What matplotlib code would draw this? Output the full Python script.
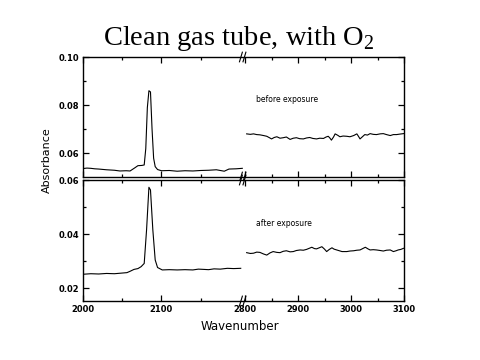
import numpy as np
import matplotlib
matplotlib.use('Agg')
import matplotlib.pyplot as plt
from matplotlib.ticker import FixedLocator, NullFormatter

# before exposure, low wavenumber segment
before_lo_x = [2000, 2005, 2010, 2015, 2020, 2030, 2040, 2047, 2055, 2060, 2066, 2070,
               2075, 2078, 2080, 2082, 2084, 2086, 2088, 2090, 2092, 2095, 2100, 2110,
               2120, 2130, 2140, 2150, 2160, 2170, 2175, 2180, 2186, 2195, 2203]
before_lo_y = [0.0537, 0.0539, 0.0538, 0.0536, 0.0535, 0.0532, 0.0530, 0.0527, 0.0528,
               0.0527, 0.0540, 0.0549, 0.0550, 0.0552, 0.0620, 0.0790, 0.0860, 0.0855,
               0.0700, 0.0580, 0.0545, 0.0533, 0.0528, 0.0529, 0.0526, 0.0528, 0.0527,
               0.0529, 0.0530, 0.0532, 0.0529, 0.0526, 0.0535, 0.0536, 0.0538]

# before exposure, high wavenumber segment
before_hi_x = [2803, 2810, 2816, 2822, 2828, 2835, 2841, 2846, 2850, 2855, 2860, 2866,
               2872, 2878, 2885, 2891, 2897, 2903, 2910, 2916, 2922, 2928, 2935, 2941,
               2948, 2953, 2957, 2960, 2963, 2967, 2970, 2975, 2979, 2985, 2992, 2998,
               3005, 3011, 3014, 3017, 3022, 3026, 3031, 3036, 3042, 3048, 3055, 3061,
               3067, 3074, 3080, 3086, 3092, 3099]
before_hi_y = [0.0681, 0.0679, 0.0681, 0.0678, 0.0677, 0.0674, 0.0671, 0.0665, 0.0660,
               0.0666, 0.0669, 0.0663, 0.0665, 0.0668, 0.0658, 0.0663, 0.0665, 0.0661,
               0.0660, 0.0664, 0.0666, 0.0662, 0.0660, 0.0663, 0.0662, 0.0668, 0.0671,
               0.0664, 0.0655, 0.0668, 0.0681, 0.0675, 0.0669, 0.0672, 0.0671, 0.0669,
               0.0674, 0.0681, 0.0671, 0.0660, 0.0670, 0.0678, 0.0676, 0.0682, 0.0679,
               0.0678, 0.0681, 0.0682, 0.0678, 0.0674, 0.0678, 0.0678, 0.0680, 0.0682]

# after exposure, low wavenumber segment
after_lo_x = [2000, 2010, 2020, 2030, 2040, 2048, 2056, 2060, 2065, 2070, 2074, 2078,
              2081, 2084, 2086, 2089, 2092, 2095, 2101, 2110, 2120, 2130, 2140, 2147,
              2154, 2160, 2167, 2175, 2184, 2192, 2201]
after_lo_y = [0.0251, 0.0253, 0.0252, 0.0254, 0.0253, 0.0255, 0.0257, 0.0262, 0.0269,
              0.0272, 0.0279, 0.0291, 0.0415, 0.0573, 0.0563, 0.0415, 0.0304, 0.0276,
              0.0267, 0.0268, 0.0267, 0.0268, 0.0267, 0.0270, 0.0269, 0.0268, 0.0271,
              0.0270, 0.0273, 0.0272, 0.0273]

# after exposure, high wavenumber segment
after_hi_x = [2803, 2810, 2816, 2822, 2828, 2835, 2841, 2847, 2853, 2860, 2866, 2872,
              2878, 2885, 2891, 2897, 2904, 2910, 2916, 2921, 2926, 2931, 2935, 2940,
              2945, 2950, 2954, 2959, 2964, 2968, 2973, 2978, 2983, 2992, 2998, 3005,
              3011, 3017, 3022, 3027, 3032, 3036, 3042, 3048, 3055, 3061, 3067, 3074,
              3080, 3085, 3089, 3094, 3099]
after_hi_y = [0.0331, 0.0328, 0.0329, 0.0333, 0.0332, 0.0326, 0.0322, 0.0330, 0.0335,
              0.0332, 0.0331, 0.0336, 0.0338, 0.0334, 0.0335, 0.0339, 0.0341, 0.0340,
              0.0343, 0.0347, 0.0351, 0.0346, 0.0345, 0.0349, 0.0353, 0.0344, 0.0335,
              0.0343, 0.0349, 0.0344, 0.0341, 0.0338, 0.0335, 0.0335, 0.0337, 0.0338,
              0.0340, 0.0341, 0.0346, 0.0351, 0.0345, 0.0341, 0.0342, 0.0341, 0.0339,
              0.0337, 0.0340, 0.0341, 0.0335, 0.0338, 0.0341, 0.0343, 0.0347]

x_major = [2000, 2100, 2800, 2900, 3000, 3100]
x_minor = [2050, 2150, 2850, 2950, 3050]
x_labels = ['2000', '2100', '2800', '2900', '3000', '3100']

BREAK = 160  # scaled position of the axis break


def fwd(x):
    x = np.asarray(x, dtype=float)
    return np.where(x < 2500, (x - 2000) * 0.785, BREAK + (x - 2796) * 0.53)


def inv(u):
    u = np.asarray(u, dtype=float)
    return np.where(u < BREAK, 2000 + u / 0.785, 2796 + (u - BREAK) / 0.53)


def setup(ax, ymin, ymax, ymaj, yminor, ylabels):
    ax.set_xscale('function', functions=(fwd, inv))
    ax.set_xlim(2000, 3100)
    ax.set_ylim(ymin, ymax)
    ax.xaxis.set_major_locator(FixedLocator(x_major))
    ax.set_xticklabels(x_labels)
    ax.xaxis.set_minor_locator(FixedLocator(x_minor))
    ax.xaxis.set_minor_formatter(NullFormatter())
    ax.set_yticks(ymaj)
    ax.set_yticklabels(ylabels)
    ax.yaxis.set_minor_locator(FixedLocator(yminor))
    ax.tick_params(which='both', direction='in', top=True, right=True,
                   labelsize=6, width=0.9, pad=3)
    ax.tick_params(which='major', length=4)
    ax.tick_params(which='minor', length=2)
    for lab in ax.get_yticklabels() + ax.get_xticklabels():
        lab.set_fontweight('bold')
    for s in ax.spines.values():
        s.set_linewidth(1.0)


fig = plt.figure(figsize=(4.8, 3.6), dpi=100)
ax1 = fig.add_axes([83 / 480, 1 - 177 / 360, 321 / 480, 120 / 360])
ax2 = fig.add_axes([83 / 480, 1 - 301 / 360, 321 / 480, 121 / 360])

ax1.plot(before_lo_x, before_lo_y, color='black', lw=0.8)
ax1.plot(before_hi_x, before_hi_y, color='black', lw=0.8)
ax2.plot(after_lo_x, after_lo_y, color='black', lw=0.8)
ax2.plot(after_hi_x, after_hi_y, color='black', lw=0.8)

setup(ax1, 0.0502, 0.100, [0.06, 0.08, 0.10], [0.07, 0.09], ['0.06', '0.08', '0.10'])
setup(ax2, 0.0152, 0.060, [0.02, 0.04, 0.06], [0.03, 0.05], ['0.02', '0.04', '0.06'])
ax1.tick_params(labelbottom=False)

# break marks "//" on each horizontal spine
bx = BREAK / 321
for ax in (ax1, ax2):
    for yb in (0, 1):
        for dx in (-0.011, 0.0):
            ax.plot([bx + dx, bx + dx + 0.009], [yb - 0.04, yb + 0.04],
                    color='black', lw=0.8, transform=ax.transAxes, clip_on=False)

ax1.text(0.538, 0.65, 'before exposure', fontsize=5.5, transform=ax1.transAxes,
         va='center')
ax2.text(0.538, 0.64, 'after exposure', fontsize=5.5, transform=ax2.transAxes,
         va='center')

fig.text(0.498, 1 - 45 / 360, 'Clean gas tube, with O$_\\mathregular{2}$',
         ha='center', va='baseline', fontsize=20.5, family='Liberation Serif')
fig.text(47 / 480, 1 - 160 / 360, 'Absorbance', rotation=90, ha='center',
         va='center', fontsize=8)
fig.text(240 / 480, 1 - 327 / 360, 'Wavenumber', ha='center', va='center',
         fontsize=8.5)

fig.savefig('out.png', dpi=100)
